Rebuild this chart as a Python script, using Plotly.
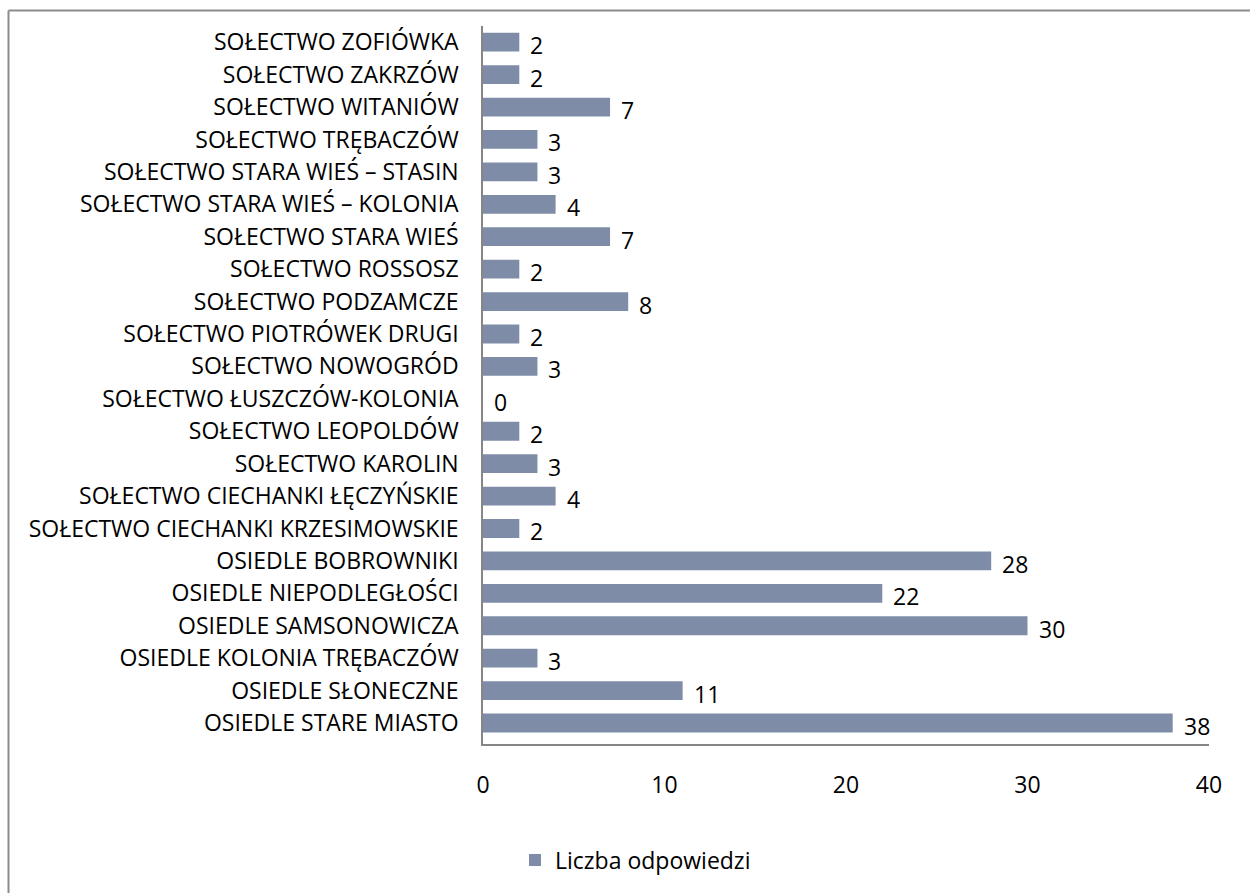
import plotly.graph_objects as go

categories = [
    "OSIEDLE STARE MIASTO",
    "OSIEDLE SŁONECZNE",
    "OSIEDLE KOLONIA TRĘBACZÓW",
    "OSIEDLE SAMSONOWICZA",
    "OSIEDLE NIEPODLEGŁOŚCI",
    "OSIEDLE BOBROWNIKI",
    "SOŁECTWO CIECHANKI KRZESIMOWSKIE",
    "SOŁECTWO CIECHANKI ŁĘCZYŃSKIE",
    "SOŁECTWO KAROLIN",
    "SOŁECTWO LEOPOLDÓW",
    "SOŁECTWO ŁUSZCZÓW-KOLONIA",
    "SOŁECTWO NOWOGRÓD",
    "SOŁECTWO PIOTRÓWEK DRUGI",
    "SOŁECTWO PODZAMCZE",
    "SOŁECTWO ROSSOSZ",
    "SOŁECTWO STARA WIEŚ",
    "SOŁECTWO STARA WIEŚ – KOLONIA",
    "SOŁECTWO STARA WIEŚ – STASIN",
    "SOŁECTWO TRĘBACZÓW",
    "SOŁECTWO WITANIÓW",
    "SOŁECTWO ZAKRZÓW",
    "SOŁECTWO ZOFIÓWKA",
]
values = [38, 11, 3, 30, 22, 28, 2, 4, 3, 2, 0, 3, 2, 8, 2, 7, 4, 3, 3, 7, 2, 2]
series_name = "Liczba odpowiedzi"
x_ticks = [0, 10, 20, 30, 40]

FONT = "'Open Sans', sans-serif"
FS = 23
BAR_COLOR = "#7F8CA8"
AXIS_COLOR = "#868686"

fig = go.Figure()
fig.add_trace(go.Bar(
    y=categories,
    x=values,
    orientation="h",
    name=series_name,
    marker=dict(color=BAR_COLOR, line=dict(width=0)),
    showlegend=True,
    hoverinfo="x+y",
))

# value labels placed through the axis scales
for c, v in zip(categories, values):
    fig.add_annotation(
        x=v, y=c, xref="x", yref="y",
        text=str(v), showarrow=False,
        xanchor="left", yanchor="middle",
        xshift=9, yshift=-3,
        font=dict(family=FONT, size=FS, color="#000000"),
    )

W, H = 1250, 893
ML, MR, MT, MB = 483, 41, 26, 149
pw = W - ML - MR
ph = H - MT - MB

def px(x):
    return (x - ML) / pw

def py(y):
    return (H - MB - y) / ph

fig.update_layout(
    width=W, height=H,
    margin=dict(l=ML, r=MR, t=MT, b=MB, autoexpand=False),
    paper_bgcolor="white",
    plot_bgcolor="white",
    font=dict(family=FONT, size=FS, color="#000000"),
    bargap=0.42,
    xaxis=dict(
        range=[0, 40],
        tickvals=x_ticks,
        showgrid=False,
        zeroline=False,
        showline=True,
        linecolor=AXIS_COLOR,
        linewidth=1.5,
        ticks="",
        ticklabelstandoff=20,
        tickfont=dict(family=FONT, size=FS),
    ),
    yaxis=dict(
        categoryorder="array",
        categoryarray=categories,
        showgrid=False,
        zeroline=False,
        showline=True,
        linecolor=AXIS_COLOR,
        linewidth=1.5,
        ticks="",
        ticklabelstandoff=18,
        tickfont=dict(family=FONT, size=FS),
    ),
    legend=dict(
        orientation="h",
        x=px(515), xanchor="left",
        y=py(860), yanchor="middle",
        font=dict(family=FONT, size=FS),
        itemwidth=30,
        bgcolor="rgba(0,0,0,0)",
    ),
    shapes=[
        dict(type="line", xref="paper", yref="paper",
             x0=px(8.5), x1=px(1260), y0=py(10.5), y1=py(10.5),
             line=dict(color="#8C8C8C", width=2)),
        dict(type="line", xref="paper", yref="paper",
             x0=px(8.5), x1=px(8.5), y0=py(10.5), y1=py(900),
             line=dict(color="#8C8C8C", width=2)),
    ],
)

fig.write_html("out.html", config={"displayModeBar": False},
               post_script="document.body.style.margin='0';")
